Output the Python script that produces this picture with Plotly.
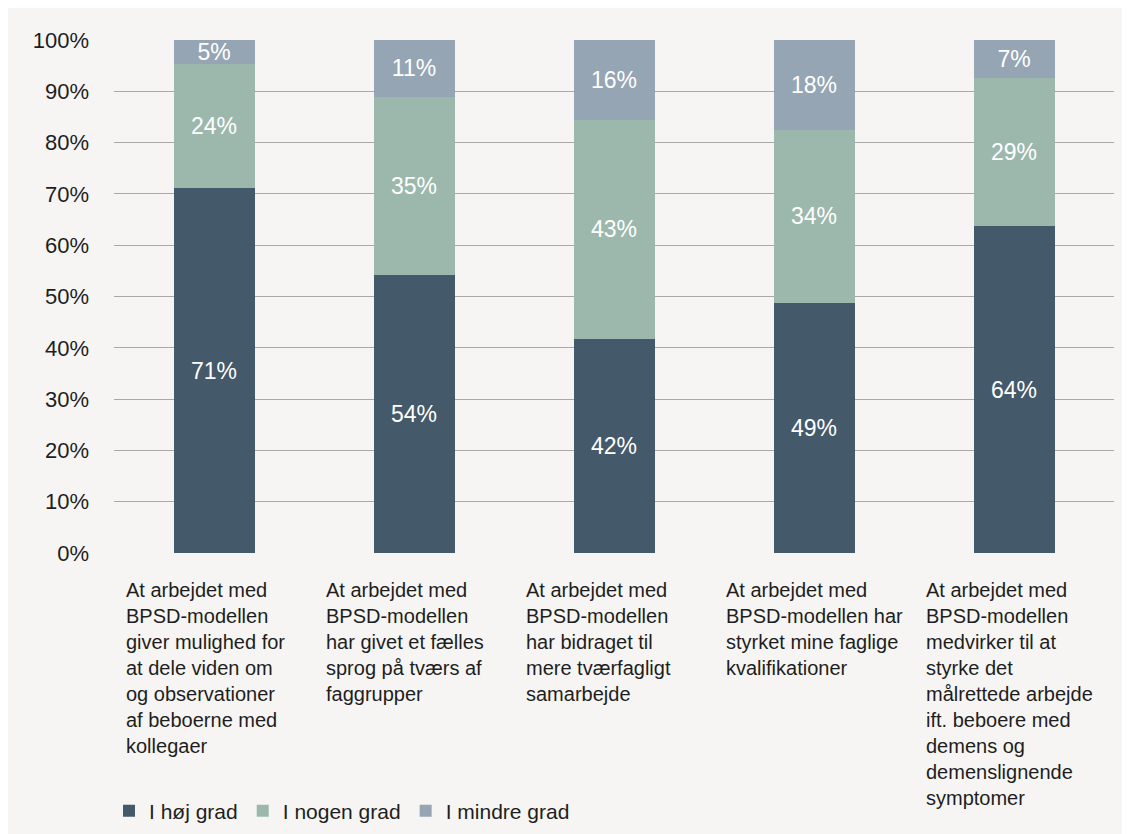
import plotly.graph_objects as go

categories = [
    "At arbejdet med<br>BPSD-modellen<br>giver mulighed for<br>at dele viden om<br>og observationer<br>af beboerne med<br>kollegaer",
    "At arbejdet med<br>BPSD-modellen<br>har givet et fælles<br>sprog på tværs af<br>faggrupper",
    "At arbejdet med<br>BPSD-modellen<br>har bidraget til<br>mere tværfagligt<br>samarbejde",
    "At arbejdet med<br>BPSD-modellen har<br>styrket mine faglige<br>kvalifikationer",
    "At arbejdet med<br>BPSD-modellen<br>medvirker til at<br>styrke det<br>målrettede arbejde<br>ift. beboere med<br>demens og<br>demenslignende<br>symptomer",
]
series_names = ["I høj grad", "I nogen grad", "I mindre grad"]
hoej = [71.1, 54.1, 41.7, 48.7, 63.7]
nogen = [24.2, 34.8, 42.8, 33.8, 28.9]
mindre = [4.7, 11.1, 15.5, 17.5, 7.4]
colors = ["#44596a", "#9cb8ad", "#95a5b4"]
ytick_vals = list(range(0, 101, 10))
ytick_text = ["0%", "10%", "20%", "30%", "40%", "50%", "60%", "70%", "80%", "90%", "100%"]

FONT = "Liberation Sans, Arial, sans-serif"
W, H = 1140, 840
ML, MR, MT, MB = 106, 34, 32, 295

fig = go.Figure()
xs = list(range(len(categories)))
for name, vals, col in zip(series_names, [hoej, nogen, mindre], colors):
    fig.add_trace(go.Bar(
        x=xs, y=vals, name=name,
        marker=dict(color=col, line=dict(width=0)),
        width=0.405,
        texttemplate="%{y:.0f}%",
        textposition="inside",
        insidetextanchor="middle",
        constraintext="none",
        textangle=0,
        textfont=dict(color="#ffffff", size=23, family=FONT),
        hoverinfo="skip",
    ))

for i, lab in enumerate(categories):
    fig.add_annotation(
        x=i - 0.5, y=0, xref="x", yref="y",
        xanchor="left", yanchor="top", align="left",
        xshift=10, yshift=-24,
        text=lab, showarrow=False,
        font=dict(size=20, color="#1e1e1e", family=FONT),
    )

fig.update_layout(
    width=W, height=H,
    margin=dict(l=ML, r=MR, t=MT, b=MB, autoexpand=False),
    paper_bgcolor="#f6f5f3",
    plot_bgcolor="#f6f5f3",
    barmode="stack",
    font=dict(family=FONT, size=20, color="#1e1e1e"),
    xaxis=dict(range=[-0.5, 4.5], showticklabels=False, showgrid=False,
               zeroline=False, showline=False, ticks=""),
    yaxis=dict(range=[0, 100], tickmode="array", tickvals=ytick_vals, ticktext=ytick_text,
               showgrid=True, gridcolor="#a8a8a8", gridwidth=1,
               zeroline=False, showline=False, ticks="",
               ticklabelstandoff=24,
               tickfont=dict(size=22, color="#1e1e1e", family=FONT)),
    legend=dict(orientation="h", x=-0.005, xref="paper",
                y=(H - 803) / H, yref="container",
                xanchor="left", yanchor="middle",
                font=dict(size=21, color="#1e1e1e", family=FONT),
                bgcolor="rgba(0,0,0,0)", traceorder="normal"),
    showlegend=True,
)

fig.write_html(
    "out.html",
    post_script="document.documentElement.style.overflow='hidden';document.body.style.overflow='hidden';",
)
